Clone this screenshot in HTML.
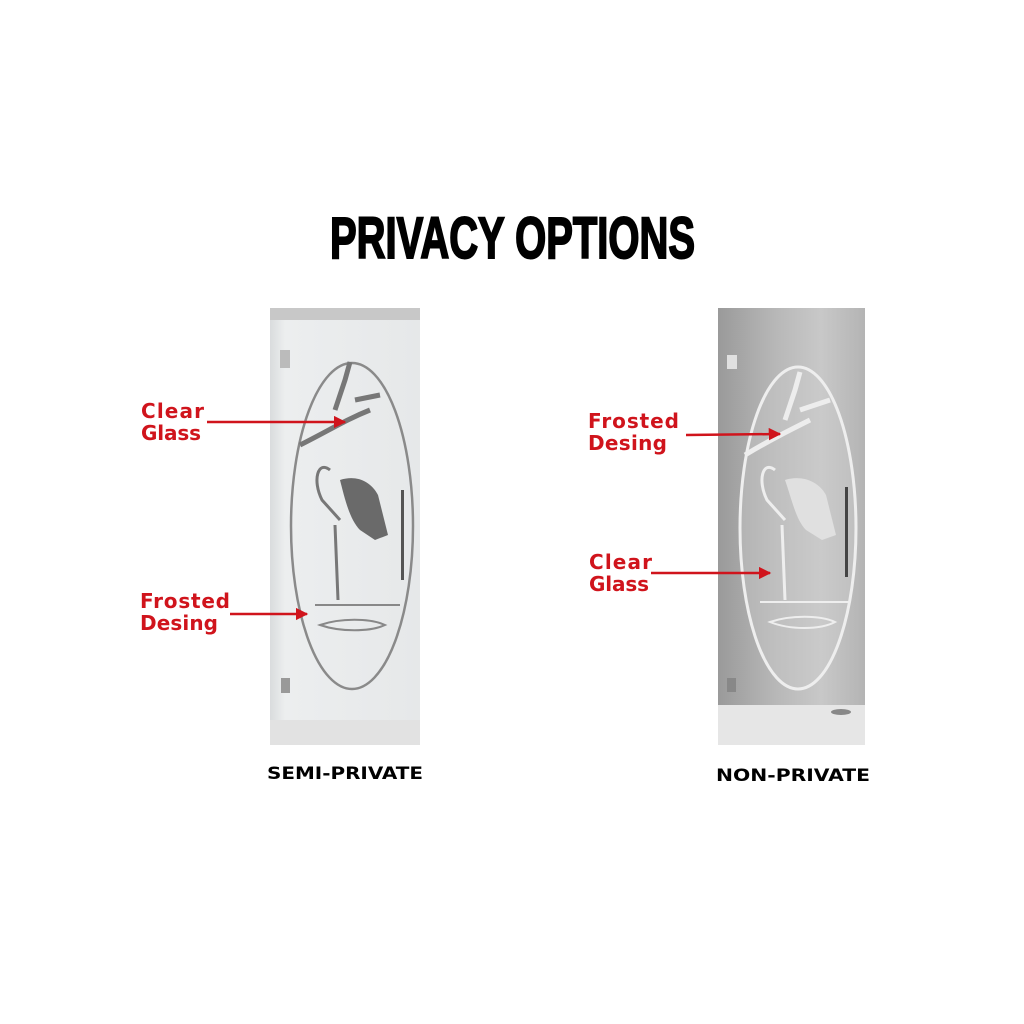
<!DOCTYPE html>
<html><head><meta charset="utf-8"><style>
html,body{margin:0;padding:0;background:#fff;}
body{width:1024px;height:1024px;position:relative;overflow:hidden;font-family:"Liberation Sans",sans-serif;}
</style></head><body>
<svg width="1024" height="1024" viewBox="0 0 1024 1024" xmlns="http://www.w3.org/2000/svg" style="position:absolute;left:0;top:0">
<defs>
<linearGradient id="lg" x1="0" x2="1"><stop offset="0" stop-color="#d9dcdd"/><stop offset="0.1" stop-color="#eceeef"/><stop offset="1" stop-color="#e6e8e9"/></linearGradient>
<linearGradient id="rg" x1="0" x2="1"><stop offset="0" stop-color="#9a9a9a"/><stop offset="0.4" stop-color="#b8b8b8"/><stop offset="0.7" stop-color="#c8c8c8"/><stop offset="1" stop-color="#b4b4b4"/></linearGradient>
<marker id="ar" viewBox="0 0 10 10" refX="9" refY="5" markerWidth="5" markerHeight="5" orient="auto"><path d="M0,0L10,5L0,10z" fill="#d0141c"/></marker>
</defs>
<text x="330" y="258" font-family="Liberation Sans Narrow, Liberation Sans, sans-serif" font-weight="bold" font-size="58" stroke="#000" stroke-width="2" textLength="365" lengthAdjust="spacingAndGlyphs">PRIVACY OPTIONS</text>

<!-- left door -->
<rect x="270" y="308" width="150" height="437" fill="url(#lg)"/>
<rect x="270" y="308" width="150" height="12" fill="#c8c8c8"/>
<rect x="270" y="720" width="150" height="25" fill="#e2e2e2"/>
<rect x="280" y="350" width="10" height="18" fill="#bbb"/>
<rect x="281" y="678" width="9" height="15" fill="#999"/>
<ellipse cx="352" cy="526" rx="61" ry="163" fill="none" stroke="#8a8a8a" stroke-width="2.5"/>
<path d="M300,445 C330,430 345,420 370,410 M335,410 L345,380 L350,362 M355,400 L380,395" stroke="#777" stroke-width="5" fill="none"/>
<path d="M340,480 C355,475 370,480 378,495 L388,535 L375,540 L360,530 C350,520 345,500 340,480z" fill="#6a6a6a"/>
<path d="M330,470 C318,460 312,480 322,500 L340,520 M335,525 L338,600" stroke="#777" stroke-width="3" fill="none"/>
<path d="M315,605 L400,605 M320,625 C340,618 370,618 385,625 C370,632 340,632 320,625z" stroke="#888" stroke-width="2" fill="none"/>
<rect x="401" y="490" width="3" height="90" fill="#555"/>

<!-- right door -->
<rect x="718" y="308" width="147" height="437" fill="url(#rg)"/>
<rect x="718" y="705" width="147" height="40" fill="#e6e6e6"/>
<rect x="727" y="355" width="10" height="14" fill="#e0e0e0"/>
<rect x="727" y="678" width="9" height="14" fill="#888"/>
<ellipse cx="798" cy="528" rx="58" ry="161" fill="#cdcdcd" fill-opacity="0.35" stroke="#eeeeee" stroke-width="3"/>
<path d="M745,455 C770,440 790,430 810,420 M785,420 L795,390 L800,372 M800,410 L830,400" stroke="#ededed" stroke-width="5" fill="none"/>
<path d="M785,480 C800,475 818,480 826,495 L836,535 L822,540 L806,530 C796,520 792,500 785,480z" fill="#e0e0e0"/>
<path d="M775,470 C763,460 757,480 767,500 L785,520 M782,525 L785,600" stroke="#eee" stroke-width="3" fill="none"/>
<path d="M760,602 L850,602 M770,622 C790,615 820,615 835,622 C820,630 790,630 770,622z" stroke="#eee" stroke-width="2" fill="none"/>
<rect x="845" y="487" width="3" height="90" fill="#444"/>
<ellipse cx="841" cy="712" rx="10" ry="3" fill="#888"/>

<!-- labels -->
<g font-family="DejaVu Sans, sans-serif" font-weight="bold" font-size="20" fill="#d0141c" lengthAdjust="spacingAndGlyphs">
<text x="141" y="418" textLength="63">Clear</text><text x="141" y="440" textLength="60">Glass</text>
<text x="140" y="608" textLength="90">Frosted</text><text x="140" y="630" textLength="78">Desing</text>
<text x="588" y="428" textLength="91">Frosted</text><text x="588" y="450" textLength="79">Desing</text>
<text x="589" y="569" textLength="63">Clear</text><text x="589" y="591" textLength="60">Glass</text>
</g>
<g stroke="#d0141c" stroke-width="2.5" marker-end="url(#ar)">
<line x1="207" y1="422" x2="345" y2="422"/>
<line x1="230" y1="614" x2="307" y2="614"/>
<line x1="686" y1="435" x2="780" y2="434"/>
<line x1="651" y1="573" x2="770" y2="573"/>
</g>
<text x="267" y="779" font-family="DejaVu Sans, sans-serif" font-weight="bold" font-size="17" textLength="156" lengthAdjust="spacingAndGlyphs">SEMI-PRIVATE</text>
<text x="716" y="781" font-family="DejaVu Sans, sans-serif" font-weight="bold" font-size="17" textLength="154" lengthAdjust="spacingAndGlyphs">NON-PRIVATE</text>
</svg>
</body></html>
